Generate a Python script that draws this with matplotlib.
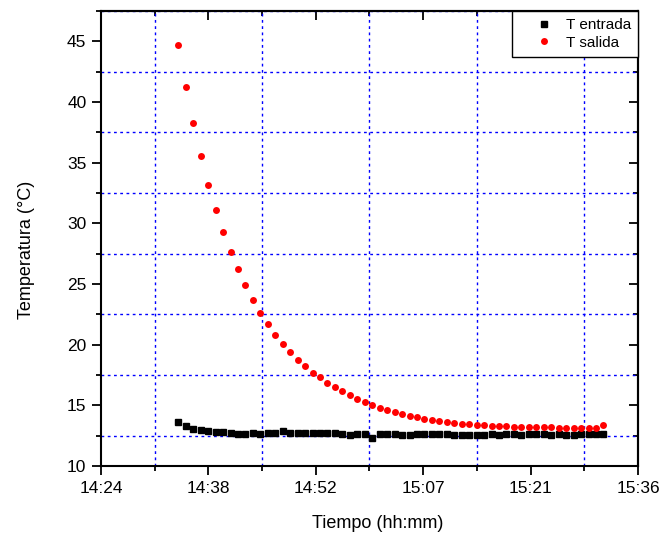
import numpy as np
import matplotlib
matplotlib.use('Agg')
import matplotlib.pyplot as plt
from matplotlib.ticker import MultipleLocator

plt.rcParams['font.family'] = ['Liberation Sans', 'DejaVu Sans']

# Sample times (hh:mm:ss), one reading per minute
times = ['14:34:22', '14:35:22', '14:36:22', '14:37:22', '14:38:22', '14:39:22',
         '14:40:22', '14:41:22', '14:42:22', '14:43:22', '14:44:22', '14:45:22',
         '14:46:22', '14:47:22', '14:48:22', '14:49:22', '14:50:22', '14:51:22',
         '14:52:22', '14:53:22', '14:54:22', '14:55:22', '14:56:22', '14:57:22',
         '14:58:22', '14:59:22', '15:00:22', '15:01:22', '15:02:22', '15:03:22',
         '15:04:22', '15:05:22', '15:06:22', '15:07:22', '15:08:22', '15:09:22',
         '15:10:22', '15:11:22', '15:12:22', '15:13:22', '15:14:22', '15:15:22',
         '15:16:22', '15:17:22', '15:18:22', '15:19:22', '15:20:22', '15:21:22',
         '15:22:22', '15:23:22', '15:24:22', '15:25:22', '15:26:22', '15:27:22',
         '15:28:22', '15:29:22', '15:30:22', '15:31:22']

t_entrada = [13.60, 13.27, 13.08, 12.94, 12.89, 12.81, 12.81, 12.75, 12.61, 12.64,
             12.72, 12.64, 12.72, 12.72, 12.86, 12.70, 12.70, 12.70, 12.72, 12.75,
             12.70, 12.72, 12.61, 12.58, 12.61, 12.64, 12.31, 12.61, 12.61, 12.61,
             12.58, 12.58, 12.61, 12.61, 12.61, 12.61, 12.61, 12.56, 12.56, 12.58,
             12.56, 12.56, 12.61, 12.56, 12.61, 12.61, 12.58, 12.61, 12.61, 12.61,
             12.56, 12.61, 12.58, 12.58, 12.66, 12.61, 12.61, 12.61]

t_salida = [44.68, 41.25, 38.24, 35.55, 33.18, 31.06, 29.28, 27.60, 26.23, 24.88,
            23.67, 22.60, 21.74, 20.83, 20.09, 19.38, 18.75, 18.22, 17.70, 17.32,
            16.82, 16.52, 16.19, 15.89, 15.56, 15.26, 15.01, 14.79, 14.65, 14.48,
            14.26, 14.13, 14.02, 13.90, 13.80, 13.71, 13.60, 13.58, 13.47, 13.44,
            13.38, 13.35, 13.33, 13.33, 13.27, 13.24, 13.22, 13.22, 13.19, 13.19,
            13.19, 13.16, 13.16, 13.16, 13.16, 13.16, 13.16, 13.38]

xtick_labels = ['14:24', '14:38', '14:52', '15:07', '15:21', '15:36']


def day_fraction(s):
    h, m, sec = (int(v) for v in s.split(':'))
    return (h * 3600 + m * 60 + sec) / 86400.0


x = [day_fraction(s) for s in times]

fig = plt.figure(figsize=(6.61, 5.43), dpi=100)
ax = fig.add_axes([0.1528, 0.1418, 0.8124, 0.8379])

ax.plot(x, t_entrada, linestyle='none', marker='s', markersize=4.3,
        color='black', label='T entrada', zorder=3)
ax.plot(x, t_salida, linestyle='none', marker='o', markersize=5,
        color='#FF0000', markeredgewidth=0, label='T salida', zorder=3)

ax.set_xlim(0.60, 0.65)
ax.set_ylim(10, 47.5)
ax.set_xticks(np.arange(0.60, 0.6501, 0.01), labels=xtick_labels)
ax.xaxis.set_minor_locator(MultipleLocator(0.005))
ax.yaxis.set_major_locator(MultipleLocator(5))
ax.yaxis.set_minor_locator(MultipleLocator(2.5))

ax.grid(which='minor', color='#0000FF', linestyle=(0, (2, 2.5)), linewidth=1.0)
ax.grid(which='major', visible=False)

for sp in ax.spines.values():
    sp.set_linewidth(1.5)

ax.tick_params(which='major', direction='out', length=6.5, width=1.3,
               labelsize=12.5, pad=4)
ax.tick_params(which='minor', direction='out', length=3.5, width=1.3)

# inward ticks on top and right
top = ax.secondary_xaxis('top')
top.set_xticks(np.arange(0.60, 0.6501, 0.01))
top.xaxis.set_minor_locator(MultipleLocator(0.005))
top.tick_params(which='major', direction='in', length=6.5, width=1.3, labeltop=False)
top.tick_params(which='minor', direction='in', length=3.5, width=1.3)
top.spines['top'].set_linewidth(1.5)

right = ax.secondary_yaxis('right')
right.yaxis.set_major_locator(MultipleLocator(5))
right.yaxis.set_minor_locator(MultipleLocator(2.5))
right.tick_params(which='major', direction='in', length=6.5, width=1.3, labelright=False)
right.tick_params(which='minor', direction='in', length=3.5, width=1.3)
right.spines['right'].set_linewidth(1.5)

ax.set_xlabel('Tiempo (hh:mm)', fontsize=13)
ax.set_ylabel('Temperatura (°C)', fontsize=13)
ax.xaxis.set_label_coords(0.515, -0.108)
ax.yaxis.set_label_coords(-0.123, 0.475)

leg = ax.legend(loc='upper right', borderaxespad=0, fancybox=False,
                edgecolor='black', framealpha=1, fontsize=11,
                handletextpad=-0.2, borderpad=0.45, labelspacing=0.25,
                handlelength=3.3)
leg.get_frame().set_linewidth(1.0)

plt.savefig('out.png', dpi=100)
